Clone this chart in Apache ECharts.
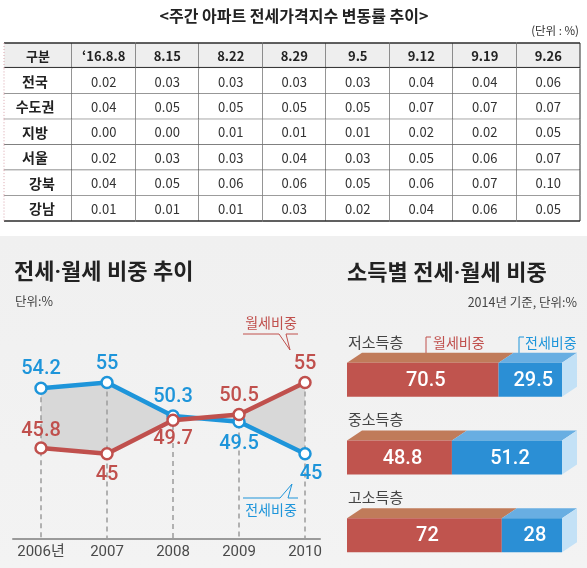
<!DOCTYPE html>
<html><head><meta charset="utf-8">
<script src="https://cdn.jsdelivr.net/npm/echarts@6/dist/echarts.min.js"></script>
<style>html,body{margin:0;padding:0;background:#fff}#c{width:587px;height:568px}</style>
</head><body><div id="c"></div>
<script>
// ---------- table data ----------
const tableTitle = '<주간 아파트 전세가격지수 변동률 추이>';
const tableUnit = '(단위 : %)';
const weekHeaders = ['구분', '‘16.8.8', '8.15', '8.22', '8.29', '9.5', '9.12', '9.19', '9.26'];
const regions = ['전국', '수도권', '지방', '서울', '강북', '강남'];
const nationwide  = [0.02, 0.03, 0.03, 0.03, 0.03, 0.04, 0.04, 0.06];
const capitalArea = [0.04, 0.05, 0.05, 0.05, 0.05, 0.07, 0.07, 0.07];
const provinces   = [0.00, 0.00, 0.01, 0.01, 0.01, 0.02, 0.02, 0.05];
const seoul       = [0.02, 0.03, 0.03, 0.04, 0.03, 0.05, 0.06, 0.07];
const gangbuk     = [0.04, 0.05, 0.06, 0.06, 0.05, 0.06, 0.07, 0.10];
const gangnam     = [0.01, 0.01, 0.01, 0.03, 0.02, 0.04, 0.06, 0.05];
const tableRows = [nationwide, capitalArea, provinces, seoul, gangbuk, gangnam];

// ---------- line chart data ----------
const lineTitle = '전세·월세 비중 추이';
const lineUnit = '단위:%';
const years = [2006, 2007, 2008, 2009, 2010];
const yearLabels = ['2006년', '2007', '2008', '2009', '2010'];
const jeonseShare = [54.2, 55, 50.3, 49.5, 45];
const wolseShare  = [45.8, 45, 49.7, 50.5, 55];

// ---------- bar chart data ----------
const barTitle = '소득별 전세·월세 비중';
const barUnit = '2014년 기준, 단위:%';
const incomeGroups = ['저소득층', '중소득층', '고소득층'];
const wolseByIncome  = [70.5, 48.8, 72];
const jeonseByIncome = [29.5, 51.2, 28];

// ---------- styles ----------
const KR = "'Noto Sans CJK KR', sans-serif";
const TITLE = "Roboto, 'Noto Sans CJK KR', sans-serif";
const NUM = "Roboto, 'Noto Sans CJK KR', sans-serif";
const BLUE = '#1e95da', RED = '#c0504d';
const subRegion = [false, false, false, false, true, true];
const jeonseLabelPos = ['top', 'top', 'top', 'bottom', 'bottom'];
const jeonseLabelOff = [[0,0],[0,0],[0,0],[0,4],[6,2]];
const wolseLabelPos  = ['top', 'bottom', 'bottom', 'top', 'top'];
const wolseLabelOff  = [[0,2],[0,3],[0,0],[0,0],[0,0]];

const ROWS = 7, COLS = 9;
const X0MIN = -68 / 63.5;

const chart = echarts.init(document.getElementById('c'), null, {renderer: 'canvas'});

function renderTableCell(params, api) {
  const c = api.value(0), r = api.value(1);
  const xl = api.coord([c === 0 ? X0MIN : c - 1, r])[0];
  const xr = api.coord([c === 0 ? 0 : c, r])[0];
  const cs = params.coordSys;
  const h = cs.height / ROWS;
  const cy = api.coord([0, r])[1];
  const yt = cy - h / 2, yb = cy + h / 2;
  const children = [];
  children.push({type: 'rect', shape: {x: xl, y: yt, width: xr - xl, height: h},
    style: {fill: r === 0 ? '#eeeeee' : '#ffffff'}});
  const line = (x1, y1, x2, y2, st) => children.push({type: 'line', shape: {x1, y1, x2, y2},
    style: Object.assign({stroke: '#2b2b2b', lineWidth: 1}, st || {})});
  line(xr, yt, xr, yb);
  if (r === 0) {
    line(xl, yt, xr, yt, {lineWidth: 1.5});
    line(xl, yb - 1, xr, yb - 1);
    line(xl, yb + 1.2, xr, yb + 1.2);
  } else {
    line(xl, yb, xr, yb, r === ROWS - 1 ? {lineWidth: 1.5} : {});
  }
  if (c === 0) line(xl, yt, xl, yb, {stroke: '#d9a3ab', lineDash: [1, 2]});
  let text, font = {fontSize: 13, fontWeight: 'normal', fill: '#333'};
  let tx = (xl + xr) / 2;
  if (r === 0) { text = weekHeaders[c]; font = {fontSize: 13, fontWeight: 'bold', fill: '#222'}; }
  else if (c === 0) {
    text = regions[r - 1]; font = {fontSize: 14, fontWeight: 'bold', fill: '#222'};
    tx = tx - 3 + (subRegion[r - 1] ? 7 : 0);
  } else text = tableRows[r - 1][c - 1].toFixed(2);
  children.push({type: 'text', style: Object.assign({text, x: tx, y: cy + 0.5, align: 'center',
    verticalAlign: 'middle', fontFamily: KR}, font)});
  return {type: 'group', children};
}

const tableData = [];
for (let r = 0; r < ROWS; r++) for (let c = 0; c < COLS; c++) tableData.push([c, r]);

function renderBetween(params, api) {
  const pts = [];
  years.forEach((y, i) => pts.push(api.coord([y, jeonseShare[i]])));
  for (let i = years.length - 1; i >= 0; i--) pts.push(api.coord([years[i], wolseShare[i]]));
  return {type: 'polygon', shape: {points: pts}, style: {fill: '#d8d8d8'}};
}

function renderGuide(params, api) {
  const p = api.coord([api.value(0), api.value(1)]);
  const cs = params.coordSys;
  return {type: 'line', shape: {x1: p[0], y1: p[1], x2: p[0], y2: cs.y + cs.height},
    style: {stroke: '#9c9c9c', lineWidth: 1.5, lineDash: [5, 4]}};
}

const DX = 15, DY = 10, BH = 34;
function makeBarRenderer(front, top, isLastSeg) {
  return function (params, api) {
    const s = api.value(0), e = api.value(1), cat = api.value(2), v = api.value(3);
    const p0 = api.coord([s, cat]), p1 = api.coord([e, cat]);
    const y0 = p0[1] - BH / 2;
    const ch = [];
    ch.push({type: 'polygon', shape: {points: [[p0[0], y0], [p0[0] + DX, y0 - DY], [p1[0] + DX, y0 - DY], [p1[0], y0]]},
      style: {fill: top}});
    ch.push({type: 'rect', shape: {x: p0[0], y: y0, width: p1[0] - p0[0], height: BH}, style: {fill: front}});
    if (isLastSeg) {
      ch.push({type: 'polygon', shape: {points: [[p1[0], y0], [p1[0] + DX, y0 - DY], [p1[0] + DX, y0 + BH - DY], [p1[0], y0 + BH]]},
        style: {fill: '#c3e1f6'}});
    } else {
      ch.push({type: 'text', style: {text: incomeGroups[cat], x: p0[0] + 1, y: y0 - 21, align: 'left',
        verticalAlign: 'middle', fontSize: 15, fill: '#444', fontFamily: KR}});
    }
    ch.push({type: 'text', style: {text: String(v), x: (p0[0] + p1[0]) / 2 + 3, y: p0[1] + 1, align: 'center',
      verticalAlign: 'middle', fontSize: 20, fontWeight: 500, fill: '#ffffff', fontFamily: NUM}});
    return {type: 'group', children: ch};
  };
}

function lineData(vals, pos, off) {
  return years.map((y, i) => ({value: [y, vals[i]], label: {position: pos[i], offset: off[i]}}));
}

const option = {
  animation: false,
  backgroundColor: {type: 'linear', x: 0, y: 0, x2: 0, y2: 1, colorStops: [
    {offset: 0, color: '#ffffff'}, {offset: 0.4155, color: '#ffffff'},
    {offset: 0.4156, color: '#f0f0f0'}, {offset: 1, color: '#f3f3f3'}]},
  grid: [
    {left: 4, top: 43, width: 576, height: 178, outerBoundsMode: 'none'},
    {left: 13, top: 347, right: 267, bottom: 29, outerBoundsMode: 'none'},
    {left: 347, top: 341, width: 215, height: 233, outerBoundsMode: 'none'}
  ],
  xAxis: [
    {gridIndex: 0, type: 'value', min: X0MIN, max: 8, show: false},
    {gridIndex: 1, type: 'value', min: 2006 - 28 / 66, max: 2010 + 15 / 66,
      axisLine: {show: true, onZero: false, lineStyle: {color: '#9a9a9a', width: 2}},
      axisTick: {show: false}, splitLine: {show: false},
      axisLabel: {customValues: years, margin: 6, color: '#4a4a4a', fontSize: 15, fontFamily: NUM,
        formatter: v => yearLabels[years.indexOf(Math.round(v))]}},
    {gridIndex: 2, type: 'value', min: 0, max: 100, show: false}
  ],
  yAxis: [
    {gridIndex: 0, type: 'category', inverse: true, data: ['구분'].concat(regions), show: false},
    {gridIndex: 1, type: 'value', min: 33, max: 60, show: false},
    {gridIndex: 2, type: 'category', inverse: true, data: incomeGroups, show: false}
  ],
  graphic: [
    {type: 'text', x: 294, y: 16, style: {text: tableTitle, fontSize: 16, fontWeight: 'bold', fill: '#222',
      fontFamily: KR, align: 'center', verticalAlign: 'middle'}},
    {type: 'text', x: 579, y: 31, style: {text: tableUnit, fontSize: 11.5, fill: '#333',
      fontFamily: KR, align: 'right', verticalAlign: 'middle'}},
    {type: 'text', x: 14, y: 273, style: {text: lineTitle, fontSize: 22, fontWeight: 'bold', fill: '#222',
      fontFamily: TITLE, align: 'left', verticalAlign: 'middle'}},
    {type: 'text', x: 15, y: 301, style: {text: lineUnit, fontSize: 12.5, fill: '#444',
      fontFamily: KR, align: 'left', verticalAlign: 'middle'}},
    {type: 'text', x: 347, y: 274, style: {text: barTitle, fontSize: 22, fontWeight: 'bold', fill: '#222',
      fontFamily: TITLE, align: 'left', verticalAlign: 'middle'}},
    {type: 'text', x: 577, y: 302, style: {text: barUnit, fontSize: 12.5, fill: '#444',
      fontFamily: KR, align: 'right', verticalAlign: 'middle'}},
    // callouts (line chart)
    {type: 'polyline', shape: {points: [[243, 334], [279, 334], [290, 350], [286, 334], [298, 334]]},
      style: {stroke: RED, fill: null, lineWidth: 1}},
    {type: 'text', x: 271, y: 323, style: {text: '월세비중', fontSize: 14, fill: RED, fontFamily: KR,
      align: 'center', verticalAlign: 'middle'}},
    {type: 'polyline', shape: {points: [[243, 498], [280, 498], [292, 484], [288, 498], [298, 498]]},
      style: {stroke: BLUE, fill: null, lineWidth: 1}},
    {type: 'text', x: 271, y: 510, style: {text: '전세비중', fontSize: 14, fill: BLUE, fontFamily: KR,
      align: 'center', verticalAlign: 'middle'}},
    // callouts (bar chart)
    {type: 'polyline', shape: {points: [[426, 358], [426, 337], [431, 337]]}, style: {stroke: RED, fill: null, lineWidth: 1}},
    {type: 'text', x: 433, y: 343, style: {text: '월세비중', fontSize: 14, fill: RED, fontFamily: KR,
      align: 'left', verticalAlign: 'middle'}},
    {type: 'polyline', shape: {points: [[519, 358], [519, 337], [524, 337]]}, style: {stroke: BLUE, fill: null, lineWidth: 1}},
    {type: 'text', x: 525, y: 343, style: {text: '전세비중', fontSize: 14, fill: BLUE, fontFamily: KR,
      align: 'left', verticalAlign: 'middle'}}
  ],
  series: [
    {type: 'custom', name: 'table', xAxisIndex: 0, yAxisIndex: 0, coordinateSystem: 'cartesian2d',
      encode: {x: 0, y: 1}, data: tableData, renderItem: renderTableCell, silent: true, clip: false},
    {type: 'custom', name: 'between', xAxisIndex: 1, yAxisIndex: 1, coordinateSystem: 'cartesian2d',
      encode: {x: 0, y: 1}, data: [[years[0], jeonseShare[0]]], renderItem: renderBetween, silent: true, z: 1},
    {type: 'custom', name: 'guides', xAxisIndex: 1, yAxisIndex: 1, coordinateSystem: 'cartesian2d',
      encode: {x: 0, y: 1}, data: years.map((y, i) => [y, Math.max(jeonseShare[i], wolseShare[i])]),
      renderItem: renderGuide, silent: true, z: 1},
    {type: 'line', name: '전세비중', xAxisIndex: 1, yAxisIndex: 1, z: 3,
      data: lineData(jeonseShare, jeonseLabelPos, jeonseLabelOff),
      lineStyle: {color: BLUE, width: 4.5}, symbol: 'circle', symbolSize: 11,
      itemStyle: {color: '#ffffff', borderColor: BLUE, borderWidth: 2.5},
      label: {show: true, distance: 2, color: BLUE, fontSize: 20, fontWeight: 500, fontFamily: NUM,
        formatter: p => String(p.value[1])}},
    {type: 'line', name: '월세비중', xAxisIndex: 1, yAxisIndex: 1, z: 4,
      data: lineData(wolseShare, wolseLabelPos, wolseLabelOff),
      lineStyle: {color: RED, width: 4.5}, symbol: 'circle', symbolSize: 11,
      itemStyle: {color: '#ffffff', borderColor: RED, borderWidth: 2.5},
      label: {show: true, distance: 2, color: RED, fontSize: 20, fontWeight: 500, fontFamily: NUM,
        formatter: p => String(p.value[1])}},
    {type: 'custom', name: '월세', xAxisIndex: 2, yAxisIndex: 2, coordinateSystem: 'cartesian2d',
      encode: {x: [0, 1], y: 2},
      data: incomeGroups.map((g, i) => [0, wolseByIncome[i], i, wolseByIncome[i]]),
      renderItem: makeBarRenderer('#c0544e', '#c07b5a', false), silent: true, clip: false},
    {type: 'custom', name: '전세', xAxisIndex: 2, yAxisIndex: 2, coordinateSystem: 'cartesian2d',
      encode: {x: [0, 1], y: 2},
      data: incomeGroups.map((g, i) => [wolseByIncome[i], wolseByIncome[i] + jeonseByIncome[i], i, jeonseByIncome[i]]),
      renderItem: makeBarRenderer('#2b8fd5', '#68aee2', true), silent: true, clip: false}
  ]
};
chart.setOption(option);
</script>
</body></html>
